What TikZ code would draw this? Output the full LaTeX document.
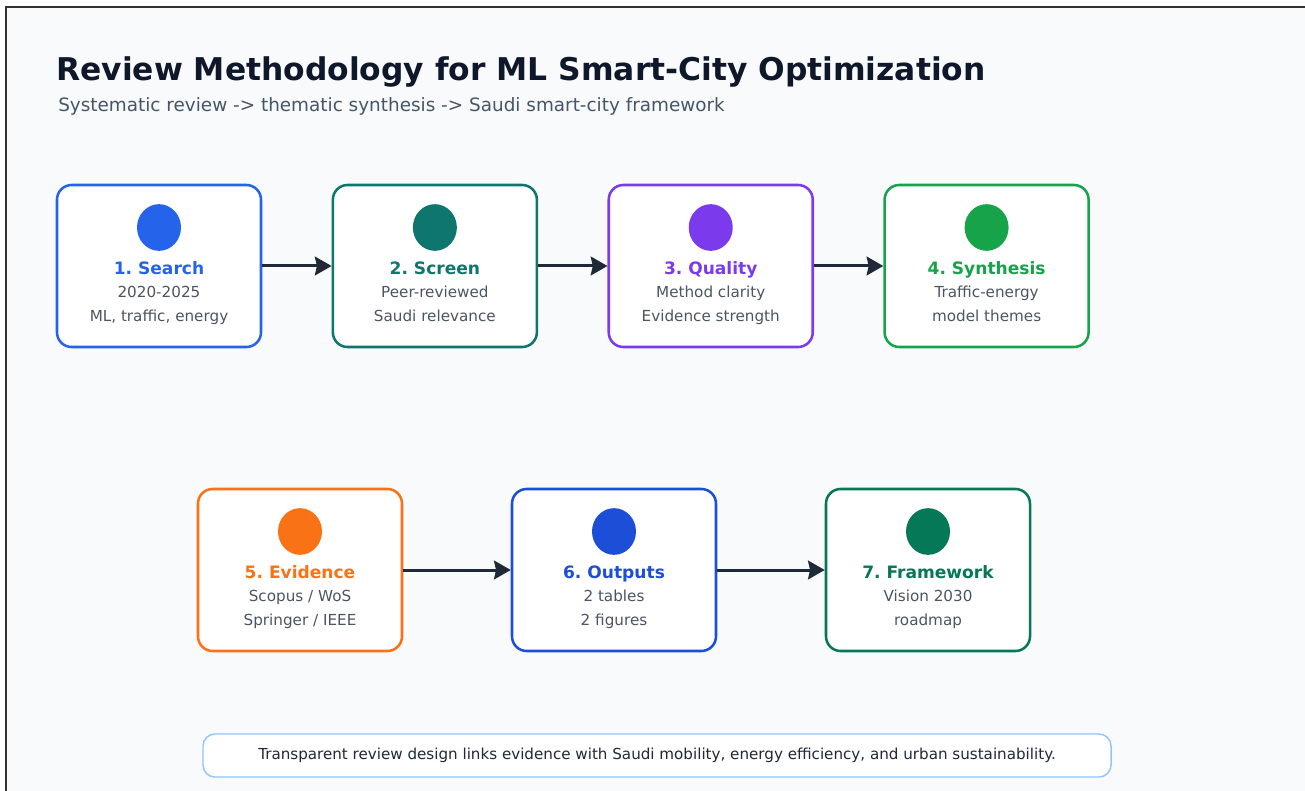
\documentclass[tikz,border=0pt]{standalone}
\usepackage{fontspec}
\setmainfont{DejaVu Sans}
\frenchspacing
\usetikzlibrary{arrows.meta,positioning,calc,shapes.geometric}
\usepackage{xcolor}
\definecolor{pagebg}{HTML}{F8FAFC}
\definecolor{frame}{HTML}{333333}
\definecolor{ink}{HTML}{1F2937}
\definecolor{headink}{HTML}{0F172A}
\definecolor{subink}{HTML}{475569}
\definecolor{body}{HTML}{4B5563}
\definecolor{capline}{HTML}{93C5FD}
\definecolor{cSearch}{HTML}{2563EB}
\definecolor{cScreen}{HTML}{0F766E}
\definecolor{cQuality}{HTML}{7C3AED}
\definecolor{cSynth}{HTML}{16A34A}
\definecolor{cEvid}{HTML}{F97316}
\definecolor{cOut}{HTML}{1D4ED8}
\definecolor{cFrame}{HTML}{047857}
\tikzset{
  >={Stealth[length=12.5pt,width=14pt,inset=1.5pt]},
  stepbox/.style={draw=#1,line width=1.9pt,rounded corners=11pt,fill=white,minimum width=153pt,minimum height=121.5pt,inner sep=0pt},
  dot/.style={ellipse,fill=#1,minimum width=33pt,minimum height=35pt,inner sep=0pt},
  steptitle/.style={anchor=base,text=#1,font=\fontsize{12.8}{15}\selectfont\bfseries,inner sep=0pt},
  steptext/.style={anchor=base,text=body,align=center,font=\fontsize{11.4}{17.6}\selectfont,inner sep=0pt},
  flow/.style={->,draw=ink,line width=2.25pt},
  note/.style={draw=capline,line width=1.1pt,rounded corners=9pt,fill=white,minimum width=681pt,minimum height=32.25pt,text=ink,font=\fontsize{11.35}{13}\selectfont}
}
\begin{document}
\begin{tikzpicture}[x=0.75pt,y=-0.75pt]
\useasboundingbox (0,0) rectangle (1305,791);
% page and frame
\fill[pagebg] (6,7) rectangle (1305,791);
\draw[frame,line width=1.2pt] (1305,7) -- (6,7) -- (6,791);
% heading
\node[anchor=base west,inner sep=0pt,text=headink,font=\fontsize{23.5}{28}\selectfont\bfseries] (title) at (56,81) {Review Methodology for ML Smart-City Optimization};
\node[anchor=base west,inner sep=0pt,text=subink,font=\fontsize{13.8}{16}\selectfont] (subtitle) at (58,112) {Systematic review -> thematic synthesis -> Saudi smart-city framework};
% first row
\node[stepbox=cSearch] (search) at (159,266) {};
\node[stepbox=cScreen,right=52pt of search] (screen) {};
\node[stepbox=cQuality,right=52pt of screen] (quality) {};
\node[stepbox=cSynth,right=52pt of quality] (synth) {};
% second row
\node[stepbox=cEvid] (evid) at (300,570) {};
\node[stepbox=cOut,right=80.6pt of evid] (outputs) {};
\node[stepbox=cFrame,right=80.6pt of outputs] (frmwk) {};
% box contents (text base sits on the last line)
\node[dot=cSearch] (search-dot) at ($(search)+(0,-38.5)$) {};
\node[steptitle=cSearch] (search-title) at ($(search)+(0,8.5)$) {1. Search};
\node[steptext] (search-text) at ($(search)+(0,55)$) {2020-2025\\ML, traffic, energy};
\node[dot=cScreen] (screen-dot) at ($(screen)+(0,-38.5)$) {};
\node[steptitle=cScreen] (screen-title) at ($(screen)+(0,8.5)$) {2. Screen};
\node[steptext] (screen-text) at ($(screen)+(0,55)$) {Peer-reviewed\\Saudi relevance};
\node[dot=cQuality] (quality-dot) at ($(quality)+(0,-38.5)$) {};
\node[steptitle=cQuality] (quality-title) at ($(quality)+(0,8.5)$) {3. Quality};
\node[steptext] (quality-text) at ($(quality)+(0,55)$) {Method clarity\\Evidence strength};
\node[dot=cSynth] (synth-dot) at ($(synth)+(0,-38.5)$) {};
\node[steptitle=cSynth] (synth-title) at ($(synth)+(0,8.5)$) {4. Synthesis};
\node[steptext] (synth-text) at ($(synth)+(0,55)$) {Traffic-energy\\model themes};
\node[dot=cEvid] (evid-dot) at ($(evid)+(0,-38.5)$) {};
\node[steptitle=cEvid] (evid-title) at ($(evid)+(0,8.5)$) {5. Evidence};
\node[steptext] (evid-text) at ($(evid)+(0,55)$) {Scopus / WoS\\Springer / IEEE};
\node[dot=cOut] (outputs-dot) at ($(outputs)+(0,-38.5)$) {};
\node[steptitle=cOut] (outputs-title) at ($(outputs)+(0,8.5)$) {6. Outputs};
\node[steptext] (outputs-text) at ($(outputs)+(0,55)$) {2 tables\\2 figures};
\node[dot=cFrame] (frmwk-dot) at ($(frmwk)+(0,-38.5)$) {};
\node[steptitle=cFrame] (frmwk-title) at ($(frmwk)+(0,8.5)$) {7. Framework};
\node[steptext] (frmwk-text) at ($(frmwk)+(0,55)$) {Vision 2030\\roadmap};
% connectors
\draw[flow] (search) -- (screen);
\draw[flow] (screen) -- (quality);
\draw[flow] (quality) -- (synth);
\draw[flow] (evid) -- (outputs);
\draw[flow] (outputs) -- (frmwk);
% footer note
\node[note] (summary) at (657,755.5) {Transparent review design links evidence with Saudi mobility, energy efficiency, and urban sustainability.};
\end{tikzpicture}
\end{document}
